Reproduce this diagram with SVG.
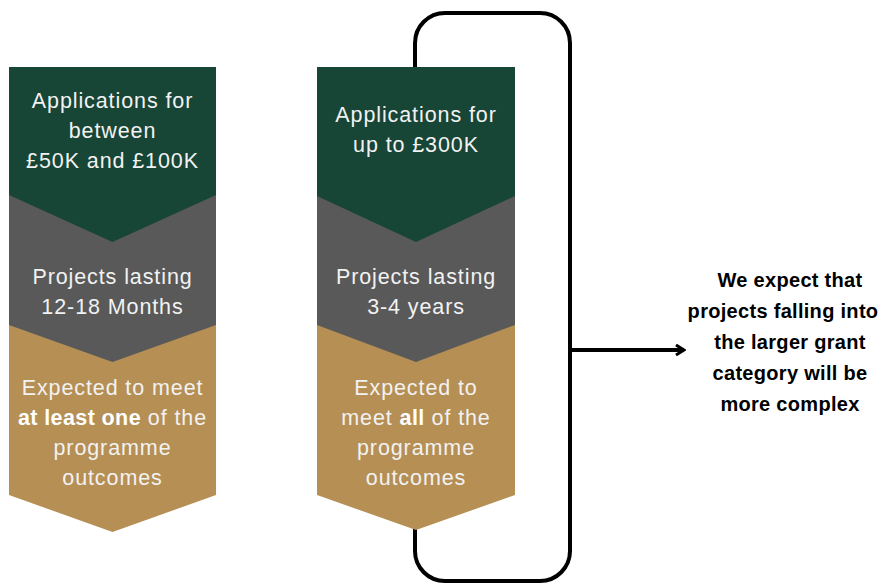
<svg xmlns="http://www.w3.org/2000/svg" width="896" height="583" viewBox="0 0 896 583">
<style>
.g{fill:#174536}.d{fill:#595959}.t{fill:#B68F55}
.w{font-family:"Liberation Sans",Arial,sans-serif;font-size:21.5px;letter-spacing:0.9px;fill:#F2F2F2;text-anchor:middle}
.b{font-weight:bold;fill:#FFFFFF;letter-spacing:0.4px}
.r{font-family:"Liberation Sans",Arial,sans-serif;font-size:20px;letter-spacing:0.3px;font-weight:bold;fill:#000;text-anchor:middle}
</style>
<defs>
<marker id="ah" viewBox="0 0 12 12" refX="10" refY="6" markerWidth="12" markerHeight="12" markerUnits="userSpaceOnUse" orient="auto">
<path d="M2,1 L10,6 L2,11" fill="none" stroke="#000" stroke-width="3"/>
</marker>
</defs>
<rect width="896" height="583" fill="#FFFFFF"/>
<g id="connectors">
<rect x="415" y="13" width="155" height="568" rx="30" ry="30" fill="none" stroke="#000" stroke-width="4"/>
<line x1="570" y1="350" x2="684" y2="350" stroke="#000" stroke-width="4" marker-end="url(#ah)"/>
</g>
<g id="col1">
<polygon class="t" points="9,325 216,325 216,495 112.5,532 9,495"/>
<polygon class="d" points="9,195 216,195 216,325 112.5,362 9,325"/>
<polygon class="g" points="9,67 216,67 216,195 112.5,242 9,195"/>
<text class="w" x="112.5" y="108">Applications for</text>
<text class="w" x="112.5" y="138">between</text>
<text class="w" x="112.5" y="168">£50K and £100K</text>
<text class="w" x="112.5" y="284">Projects lasting</text>
<text class="w" x="112.5" y="314">12-18 Months</text>
<text class="w" x="112.5" y="395">Expected to meet</text>
<text class="w" x="112.5" y="425"><tspan class="b">at least one</tspan> of the</text>
<text class="w" x="112.5" y="455">programme</text>
<text class="w" x="112.5" y="485">outcomes</text>
</g>
<g id="col2">
<polygon class="t" points="317,325 515,325 515,495 416,530 317,495"/>
<polygon class="d" points="317,196 515,196 515,325 416,362 317,325"/>
<polygon class="g" points="317,67 515,67 515,196 416,242 317,196"/>
<text class="w" x="416" y="122">Applications for</text>
<text class="w" x="416" y="152">up to £300K</text>
<text class="w" x="416" y="284">Projects lasting</text>
<text class="w" x="416" y="314">3-4 years</text>
<text class="w" x="416" y="395">Expected to</text>
<text class="w" x="416" y="425">meet <tspan class="b">all</tspan> of the</text>
<text class="w" x="416" y="455">programme</text>
<text class="w" x="416" y="485">outcomes</text>
</g>
<g id="note">
<text class="r" x="790" y="287">We expect that</text>
<text class="r" x="783" y="318">projects falling into</text>
<text class="r" x="790" y="349">the larger grant</text>
<text class="r" x="790" y="380">category will be</text>
<text class="r" x="790" y="411">more complex</text>
</g>
</svg>
